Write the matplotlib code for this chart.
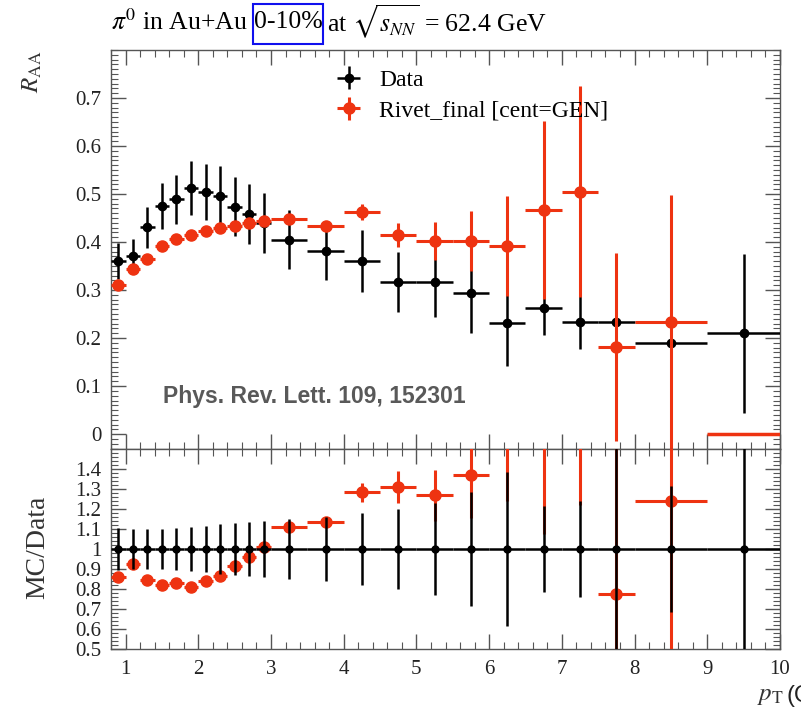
import numpy as np
import matplotlib
matplotlib.use('Agg')
import matplotlib.pyplot as plt
from matplotlib.ticker import MultipleLocator
from matplotlib.patches import Rectangle

# --- Data ---
pt = np.array([0.9, 1.1, 1.3, 1.5, 1.7, 1.9, 2.1, 2.3, 2.5, 2.7, 2.9,
               3.25, 3.75, 4.25, 4.75, 5.25, 5.75, 6.25, 6.75, 7.25, 7.75,
               8.5, 9.5])
pt_halfwidth = np.array([0.1] * 11 + [0.25] * 10 + [0.5] * 2)

data_y = np.array([0.360, 0.370, 0.431, 0.476, 0.489, 0.512, 0.504, 0.496, 0.474, 0.458, 0.440,
                   0.405, 0.382, 0.360, 0.317, 0.317, 0.293, 0.231, 0.262, 0.234, 0.234,
                   0.189, 0.210])
data_err = np.array([0.037, 0.037, 0.043, 0.048, 0.051, 0.056, 0.058, 0.062, 0.062, 0.062, 0.062,
                     0.061, 0.061, 0.065, 0.063, 0.073, 0.083, 0.089, 0.056, 0.056, 0.120,
                     0.060, 0.165])

mc_y = np.array([0.310, 0.343, 0.365, 0.391, 0.406, 0.415, 0.424, 0.430, 0.433, 0.440, 0.444,
                 0.449, 0.434, 0.462, 0.415, 0.402, 0.402, 0.391, 0.467, 0.505, 0.181,
                 0.234, 0.000])
mc_err = np.array([0.004] * 11 +
                  [0.010, 0.010, 0.017, 0.025, 0.040, 0.063, 0.104, 0.186, 0.220, 0.196,
                   0.264, 0.000])

xticks = [1, 2, 3, 4, 5, 6, 7, 8, 9, 10]
raa_ticks = [0, 0.1, 0.2, 0.3, 0.4, 0.5, 0.6, 0.7]
ratio_ticks = [0.5, 0.6, 0.7, 0.8, 0.9, 1, 1.1, 1.2, 1.3, 1.4]

# --- Ratios ---
data_ratio = np.ones_like(data_y)
data_ratio_err = data_err / data_y
mc_ratio = mc_y / data_y
mc_ratio_err = mc_err / data_y

RED = '#ee3311'
GRAY = '#555555'
plt.rcParams['font.family'] = ['Liberation Serif', 'DejaVu Serif']
plt.rcParams['mathtext.fontset'] = 'stix'

W, H = 801, 713
fig = plt.figure(figsize=(W / 100, H / 100), dpi=100)
ax1 = fig.add_axes([111 / W, 1 - 449 / H, 669 / W, 399 / H])
ax2 = fig.add_axes([111 / W, 1 - 649 / H, 669 / W, 200 / H], sharex=ax1)

# --- Upper panel ---
ax1.errorbar(pt, data_y, yerr=data_err, xerr=pt_halfwidth, fmt='o', color='black',
             ms=6, elinewidth=1.8, capsize=0, label='Data', zorder=3)
has_mc = mc_y > 0
ax1.errorbar(pt[has_mc], mc_y[has_mc], yerr=mc_err[has_mc], xerr=pt_halfwidth[has_mc],
             fmt='o', color=RED, ms=8, elinewidth=2.2, capsize=0,
             label='Rivet_final [cent=GEN]', zorder=4)
ax1.errorbar(pt[~has_mc], mc_y[~has_mc], xerr=pt_halfwidth[~has_mc], fmt='none',
             ecolor=RED, elinewidth=2.5, capsize=0, zorder=4)

ax1.set_ylim(-0.031, 0.80)
ax1.set_yticks(raa_ticks)
ax1.set_yticklabels(['0', '0.1', '0.2', '0.3', '0.4', '0.5', '0.6', '0.7'])
ax1.yaxis.set_minor_locator(MultipleLocator(0.01))
ax1.tick_params(labelbottom=False)

leg = ax1.legend(loc='upper left', bbox_to_anchor=(0.297, 1.005), frameon=False,
                 fontsize=17, handlelength=1.5, handletextpad=0.55, labelspacing=0.4)

ax1.text(0.078, 0.131, 'Phys. Rev. Lett. 109, 152301', transform=ax1.transAxes,
         fontsize=16.5, fontweight='bold', color='#595959', family='Liberation Sans',
         ha='left', va='center')

# --- Lower panel ---
ax2.errorbar(pt, mc_ratio, yerr=mc_ratio_err, xerr=pt_halfwidth, fmt='o', color=RED,
             ms=8, elinewidth=2.2, capsize=0, zorder=3)
ax2.errorbar(pt, data_ratio, yerr=data_ratio_err, xerr=pt_halfwidth, fmt='o', color='black',
             ms=5, elinewidth=1.8, capsize=0, zorder=4)
ax2.set_ylim(0.5, 1.5)
ax2.set_yticks(ratio_ticks)
ax2.set_yticklabels(['0.5', '0.6', '0.7', '0.8', '0.9', '1', '1.1', '1.2', '1.3', '1.4'])
ax2.yaxis.set_minor_locator(MultipleLocator(0.02))
ax2.set_xlim(0.8, 10)
ax2.set_xticks(xticks)
ax2.xaxis.set_minor_locator(MultipleLocator(0.2))

for ax in (ax1, ax2):
    ax.tick_params(which='both', direction='in', top=True, right=True,
                   colors=GRAY, labelcolor='#222222', labelsize=15)
    ax.tick_params(which='major', length=11, width=1.0)
    ax.tick_params(which='minor', length=5, width=0.8)
    for s in ax.spines.values():
        s.set_color(GRAY)
        s.set_linewidth(1.0)
ax2.tick_params(axis='x', pad=8)
ax1.tick_params(axis='y', pad=7)
ax2.tick_params(axis='y', pad=7)

# --- Axis labels ---
fig.text(32 / W, 1 - 72 / H, r'$R_{\mathrm{AA}}$', rotation=90, fontsize=18,
         ha='center', va='center', color='#333333')
fig.text(38 / W, 1 - 547 / H, 'MC/Data', rotation=90, fontsize=20,
         ha='center', va='center', color='#333333')
fig.text(757 / W, 1 - 696 / H, r'$p_{\mathrm{T}}$', fontsize=18, ha='left', va='center',
         color='#333333')
fig.text(787 / W, 1 - 696 / H, '(GeV/c)', fontsize=17, ha='left', va='center',
         family='Liberation Sans', color='#222222')

# --- Title ---
ty = 1 - 22 / H
fig.text(111 / W, ty, r'$\pi^0$ in Au+Au', fontsize=18.5, ha='left', va='center')
fig.text(288 / W, ty, '0-10%', fontsize=18.5, ha='center', va='center')
fig.add_artist(Rectangle((253 / W, 1 - 44 / H), 70 / W, 40 / H, transform=fig.transFigure,
                         fill=False, edgecolor='#1010ee', linewidth=1.5))
fig.text(327 / W, ty, r'at $\sqrt{s_{NN}}$ = 62.4 GeV', fontsize=18.5, ha='left', va='center')

fig.savefig('out.png', dpi=100)
